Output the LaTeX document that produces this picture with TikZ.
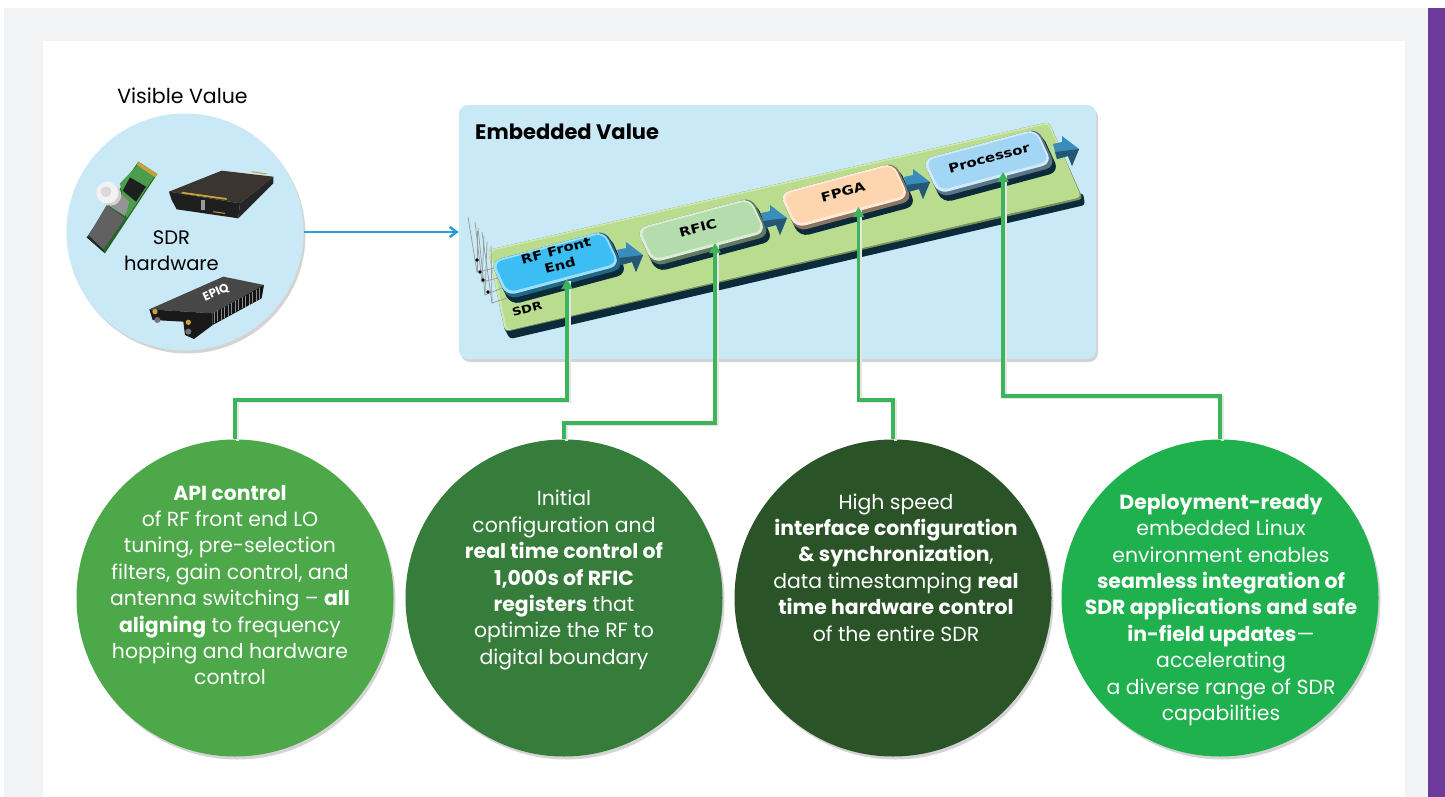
\documentclass[tikz,border=0pt]{standalone}
\usepackage{fontspec}
\setmainfont{Poppins}
\newfontfamily\chipfont[FakeStretch=1.2]{DejaVu Sans}
\usetikzlibrary{shadows,arrows.meta,calc}
\definecolor{bggrey}{HTML}{F1F3F5}
\definecolor{purplebar}{HTML}{6E3A9C}
\definecolor{paleblue}{HTML}{C9E9F7}
\definecolor{linkblue}{HTML}{2A9FD8}
\definecolor{linkgreen}{HTML}{3CB55A}
\definecolor{circA}{HTML}{4DA84A}
\definecolor{circB}{HTML}{367C3A}
\definecolor{circC}{HTML}{2A5327}
\definecolor{circD}{HTML}{20B14F}
\definecolor{boardgreen}{HTML}{BADC8E}
\definecolor{darkedge}{HTML}{0B2A3A}
\definecolor{chipA}{HTML}{3CBDF3}
\definecolor{chipB}{HTML}{B5DCAC}
\definecolor{chipC}{HTML}{FDD5AE}
\definecolor{chipD}{HTML}{A3D5F5}
\definecolor{arrowblue}{HTML}{3A8CBB}
\definecolor{goldpin}{HTML}{C9A13A}
\definecolor{housing}{HTML}{3A362F}
\tikzset{
  softshadow/.style={drop shadow={shadow xshift=2pt,shadow yshift=-3pt,fill=black,opacity=.17}},
  bigcircle/.style={circle,inner sep=0pt,minimum size=317pt,softshadow},
  circletext/.style={text=white,align=center,inner sep=0pt,font=\fontsize{20.4}{26.4}\selectfont},
  greenlink/.style={linkgreen,line width=3.2pt,-{Triangle[length=10pt,width=11pt]},
    preaction={draw=black!10,line width=2.5pt,-,transform canvas={shift={(2.5pt,-1.5pt)}}}},
  chiplabel/.style={font=\chipfont\bfseries\fontsize{12.5}{15.5}\selectfont,rotate=15,align=center,inner sep=0pt,text=black},
}
\newcommand{\skewrect}[4]{(#1,#2)--(#3,#2)--(#3,#4)--(#1,#4)--cycle}
\newcommand{\chipbody}[3]{%
  \begin{scope}[shift={(#1,#2)},x={(.966pt,.259pt)},y={(.42pt,-.91pt)}]
    \fill[darkedge,rounded corners=10pt] \skewrect{-60}{-16}{61}{27};
    \fill[#3!55!black,rounded corners=10pt] \skewrect{-60}{-21}{60}{21};
    \fill[#3!50!white,rounded corners=10pt] \skewrect{-60}{-21}{58}{17};
    \fill[#3,rounded corners=8pt] \skewrect{-57}{-19}{56}{14};
  \end{scope}
}
\newcommand{\blockarrow}[2]{%
  \begin{scope}[shift={(#1,#2)}]
    \fill[arrowblue] (-12,-7)--(-3,-9)--(-3,-15)--(14,-2)--(7,15)--(3,5)--(-8,8)--cycle;
    \fill[arrowblue!62!black] (-10,1)--(14,-2)--(7,15)--(3,5)--(-8,8)--cycle;
  \end{scope}
}
\begin{document}
\begin{tikzpicture}[x=1pt,y=-1pt]
\useasboundingbox (0,0) rectangle (1445,797);
\fill[white] (0,0) rectangle (1445,797);
\fill[bggrey] (4,8) rectangle (1428,797);
\fill[white] (43,41) rectangle (1405,797);
\fill[purplebar] (1428,8) rectangle (1445,797);

% visible value
\node[inner sep=0pt,font=\fontsize{20.5}{24}\selectfont] (vis) at (182.5,96) {Visible Value};
\node[circle,fill=paleblue,inner sep=0pt,minimum size=237pt,softshadow] (hw) at (185,232) {};

\begin{scope}[shift={(70pt,-150pt)},x=.3333pt,y=-.3333pt]
  % M.2 card
  \fill[green!30!black!85] (205,35)--(262,72)--(105,310)--(50,262)--cycle;
  \fill[green!45!black!70] (208,40)--(258,72)--(170,205)--(150,100)--cycle;
  \fill[black!88] (180,82)--(228,110)--(198,155)--(158,122)--cycle;
  \fill[goldpin] (205,35)--(262,72)--(256,82)--(200,45)--cycle;
  \fill[black!62] (110,165)--(165,205)--(100,298)--(55,258)--cycle;
  \fill[black!42] (145,125)--(178,155)--(165,198)--(118,168)--cycle;
  \fill[black!85] (50,262)--(105,310)--(100,300)--(58,258)--cycle;
  \fill[black!18] (122,135) circle[radius=32];
  \fill[black!5] (112,128) circle[radius=33];
  \fill[black!15] (108,125) circle[radius=16];
  % radio module
  \fill[housing] (297,125)--(455,62)--(610,80)--(510,160)--cycle;
  \fill[black!85] (610,80)--(610,100)--(505,205)--(510,160)--cycle;
  \fill[black!88] (297,125)--(510,160)--(505,205)--(320,178)--(305,150)--cycle;
  \draw[goldpin,line width=1.8pt] (335,128)--(470,147);
  \draw[goldpin,line width=1pt] (545,65)--(590,72);
  \draw[goldpin,line width=1pt] (430,185)--(465,190);
  \fill[black!40] (392,150) rectangle (404,180);
  % compact radio
  \fill[black!72] (238,478)--(460,380)--(582,405)--(428,490)--cycle;
  \fill[black!90] (238,478)--(428,490)--(428,525)--(372,567)--(345,555)--(340,515)--(248,510)--cycle;
  \fill[black!92] (428,490)--(582,405)--(575,445)--(428,525)--cycle;
  \foreach \i in {0,...,13}{
    \draw[black!45,line width=.8pt] ({433+\i*10.5},{487-\i*5.6})--({433+\i*10.5},{520-\i*5.6});
  }
  \fill[goldpin] (255,485) circle[radius=8];
  \fill[goldpin] (355,517) circle[radius=8];
  \fill[black!55] (262,510) circle[radius=9];
  \fill[black!55] (355,545) circle[radius=9];
  \node[text=white,rotate=24,inner sep=0pt,font=\bfseries\fontsize{12}{13}\selectfont] (logo) at (438,428) {EPIQ};
\end{scope}

\node[inner sep=0pt,align=center,font=\fontsize{19.5}{26.4}\selectfont] (sdrhw) at (171.5,251) {SDR\\hardware};

% embedded value panel
\node[rounded corners=9pt,fill=paleblue,inner sep=0pt,minimum width=637pt,minimum height=254pt,softshadow] (panel) at (777.5,232) {};
\node[anchor=west,inner sep=0pt,font=\bfseries\fontsize{21}{24}\selectfont] (emb) at (475,132) {Embedded Value};

% board
\fill[darkedge,rounded corners=3pt] (503,326)--(1083,193)--(1085,205)--(510,339)--cycle;
\fill[boardgreen!65!black,rounded corners=4pt] (488,250)--(1049,122)--(1083,199)--(505,332)--cycle;
\fill[boardgreen!70!white,rounded corners=4pt] (488,250)--(1049,122)--(1081,197)--(505,331)--cycle;
\fill[boardgreen,rounded corners=4pt] (491,251)--(1048,124)--(1081,197)--(507,330)--cycle;

% antennas
\begin{scope}[black!40,line width=.7pt]
  \foreach \ax/\ay/\bx/\by/\tx/\ty in {477/272/495/268/468/217,482/282/498/278/475/222,485/295/502/288/478/228,492/303/507/298/482/232}{
    \draw (\bx,\by)--(\ax,\ay)--(\tx,\ty);
    \draw (\ax,\ay)--({\tx+9},{\ty+14});
  }
  \foreach \dx/\dy in {477/260,480/272,483/280,488/292}{\fill[black] (\dx,\dy) circle[radius=1.8];}
\end{scope}

% chips
\chipbody{557}{265}{chipA}
\chipbody{703}{232}{chipB}
\chipbody{846}{197}{chipC}
\chipbody{989}{163}{chipD}
\node[chiplabel] (felabel) at (558,258) {RF Front\\End};
\node[chiplabel] (rficlabel) at (698,228) {RFIC};
\node[chiplabel] (fpgalabel) at (843,192) {FPGA};
\node[chiplabel] (proclabel) at (989,158) {Processor};
\node[chiplabel,font=\chipfont\bfseries\fontsize{11}{12}\selectfont] (sdrl) at (527,309) {SDR};
\coordinate (fe) at (567,279);
\coordinate (rfic) at (715,243);
\coordinate (fpga) at (858.5,207);
\coordinate (proc) at (1003,172);

\blockarrow{629}{257}
\blockarrow{773}{220}
\blockarrow{916}{184}
\blockarrow{1065}{151}

% circles
\node[bigcircle,fill=circA] (c1) at (235,598) {};
\node[bigcircle,fill=circB] (c2) at (564,598) {};
\node[bigcircle,fill=circC] (c3) at (893,598) {};
\node[bigcircle,fill=circD] (c4) at (1220,598) {};

\node[circletext] (t1) at (230,585) {\textbf{API control}\\of RF front end LO\\tuning, pre-selection\\filters, gain control, and\\antenna switching -- \textbf{all}\\\textbf{aligning} to frequency\\hopping and hardware\\control};
\node[circletext] (t2) at (564,580) {Initial\\configuration and\\\textbf{real time control of}\\\textbf{1,000s of RFIC}\\\textbf{registers} that\\optimize the RF to\\digital boundary};
\node[circletext] (t3) at (896,567.5) {High speed\\\textbf{interface configuration}\\\textbf{\& synchronization},\\data timestamping \textbf{real}\\\textbf{time hardware control}\\of the entire SDR};
\node[circletext] (t4) at (1221,610) {\textbf{Deployment-ready}\\embedded Linux\\environment enables\\\textbf{seamless integration of}\\\textbf{SDR applications and safe}\\\textbf{in-field updates}---\\accelerating\\a diverse range of SDR\\capabilities};

% connectors
\draw[linkblue,line width=2.5pt,-{Straight Barb[length=7pt,width=10pt]}] (hw.east)--(panel.west);
\draw[greenlink] (c1.north)--(235,400)-|(fe);
\draw[greenlink] (c2.north)--(564,423)-|(rfic);
\draw[greenlink] (c3.north)--(893,400)-|(fpga);
\draw[greenlink] (c4.north)--(1220,396)-|(proc);
\end{tikzpicture}
\end{document}
